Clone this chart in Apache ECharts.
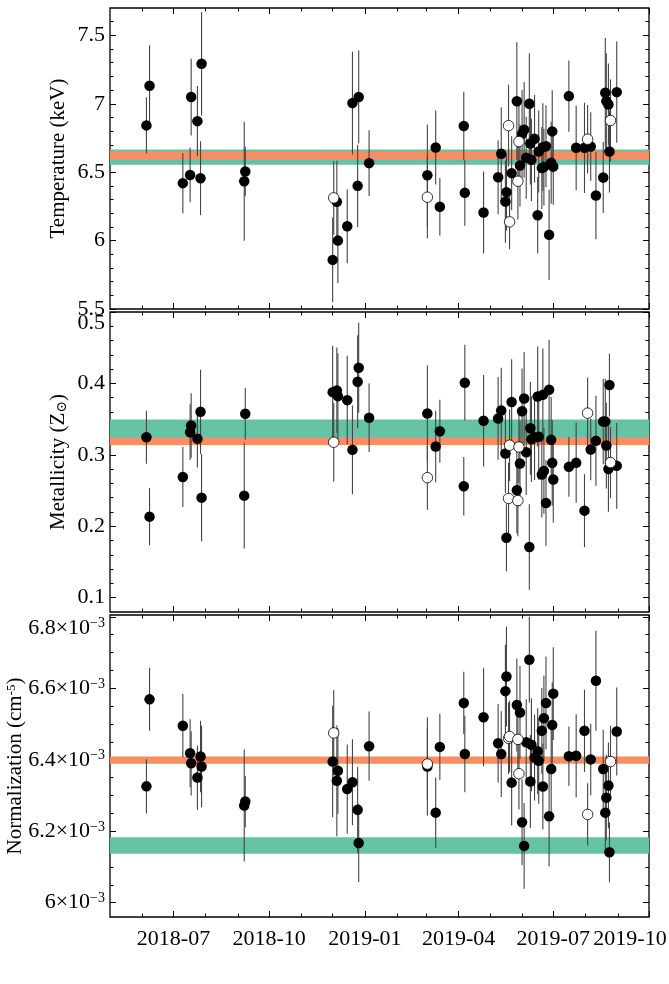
<!DOCTYPE html>
<html lang="en">
<head>
<meta charset="UTF-8">
<title>Spectral fit parameters</title>
<script src="https://cdn.jsdelivr.net/npm/echarts@6/dist/echarts.min.js"></script>
<style>
  html, body { margin: 0; padding: 0; background: #fff; }
  #main { width: 669px; height: 984px; }
</style>
</head>
<body>
<div id="main"></div>
<script>
// observation dates (shared by the three panels)
var dates = [
  '2018-06-05','2018-06-08','2018-07-10','2018-07-17','2018-07-18','2018-07-24','2018-07-27','2018-07-28',
  '2018-09-07','2018-09-08',
  '2018-12-01','2018-12-02','2018-12-05','2018-12-06','2018-12-15','2018-12-20','2018-12-25','2018-12-26',
  '2019-01-05',
  '2019-03-02','2019-03-02','2019-03-10','2019-03-14',
  '2019-04-06','2019-04-07','2019-04-25',
  '2019-05-09','2019-05-12','2019-05-16','2019-05-17','2019-05-19','2019-05-20','2019-05-22','2019-05-27','2019-05-28','2019-05-29','2019-05-30',
  '2019-06-01','2019-06-03','2019-06-05','2019-06-08','2019-06-09','2019-06-10','2019-06-13','2019-06-16','2019-06-17','2019-06-20','2019-06-21','2019-06-22','2019-06-24','2019-06-27','2019-06-29','2019-06-30',
  '2019-07-01','2019-07-16','2019-07-23','2019-07-31',
  '2019-08-03','2019-08-06','2019-08-11','2019-08-18','2019-08-20','2019-08-21','2019-08-23','2019-08-24','2019-08-25','2019-08-31'
];
// 1 = open (white) marker
var hollow = [
  0,0,0,0,0,0,0,0,
  0,0,
  0,1,0,0,0,0,0,0,
  0,
  0,1,0,0,
  0,0,0,
  0,0,0,0,1,1,0,0,1,1,0,
  0,0,0,0,0,0,0,0,0,0,0,0,0,0,0,0,
  0,0,0,0,
  1,0,0,0,0,0,0,0,1,0
];

var temp = [
  6.842, 7.132, 6.42, 6.48, 7.049, 6.873, 6.456, 7.293,
  6.434, 6.505,
  5.859, 6.312, 6.283, 6.0, 6.105, 7.005, 6.4, 7.049,
  6.566,
  6.478, 6.317, 6.68, 6.247,
  6.837, 6.349, 6.205,
  6.463, 6.634, 6.285, 6.354, 6.84, 6.137, 6.493, 7.019, 6.434, 6.724, 6.549,
  6.78, 6.81, 6.605, 7.0, 6.71, 6.59, 6.744, 6.185, 6.651, 6.53, 6.683, 6.537, 6.69, 6.042, 6.569, 6.798,
  6.542, 7.056, 6.678, 6.678,
  6.741, 6.688, 6.33, 6.461, 7.081, 7.019, 6.995, 6.651, 6.878, 7.085
];
var tempErr = [
  0.205, 0.295, 0.22, 0.20, 0.28, 0.256, 0.27, 0.378,
  0.435, 0.18,
  0.31, 0.27, 0.30, 0.31, 0.27, 0.376, 0.30, 0.34,
  0.24,
  0.37, 0.30, 0.27, 0.21,
  0.25, 0.24, 0.30,
  0.27, 0.34, 0.30, 0.28, 0.30, 0.20, 0.27, 0.43, 0.28, 0.30, 0.30,
  0.32, 0.35, 0.30, 0.37, 0.30, 0.30, 0.32, 0.28, 0.30, 0.30, 0.32, 0.28, 0.30, 0.33, 0.30, 0.30,
  0.28, 0.26, 0.31, 0.33,
  0.25, 0.25, 0.32, 0.26, 0.40, 0.35, 0.30, 0.30, 0.30, 0.37
];

var metal = [
  0.3247, 0.2135, 0.2691, 0.3317, 0.3411, 0.3224, 0.3603, 0.2401,
  0.2429, 0.3575,
  0.3878, 0.3177, 0.3902, 0.3822, 0.3766, 0.307, 0.4024, 0.422,
  0.3519,
  0.358, 0.268, 0.3116, 0.333,
  0.256, 0.401, 0.3477,
  0.351, 0.362, 0.302, 0.184, 0.239, 0.3135, 0.374, 0.2504, 0.236, 0.311, 0.288,
  0.361, 0.379, 0.3037, 0.171, 0.3373, 0.3219, 0.3247, 0.3818, 0.3252, 0.2724, 0.384, 0.2775, 0.2327, 0.3911, 0.321, 0.2888,
  0.2654, 0.2832, 0.2888, 0.2219,
  0.3584, 0.3074, 0.3196, 0.3467, 0.3467, 0.313, 0.2803, 0.3977, 0.2892, 0.2846
];
var metalErr = [
  0.037, 0.040, 0.042, 0.039, 0.045, 0.040, 0.059, 0.061,
  0.074, 0.036,
  0.065, 0.055, 0.060, 0.060, 0.062, 0.062, 0.065, 0.063,
  0.048,
  0.067, 0.045, 0.050, 0.044,
  0.041, 0.053, 0.064,
  0.058, 0.060, 0.055, 0.047, 0.050, 0.050, 0.060, 0.060, 0.050, 0.050, 0.060,
  0.060, 0.065, 0.060, 0.060, 0.065, 0.060, 0.060, 0.070, 0.060, 0.060, 0.065, 0.060, 0.060, 0.070, 0.060, 0.060,
  0.060, 0.042, 0.056, 0.051,
  0.050, 0.043, 0.063, 0.060, 0.060, 0.060, 0.060, 0.044, 0.050, 0.060
];

// normalization, in units of 1e-3 cm^-5
var norm = [
  6.3255, 6.569, 6.495, 6.418, 6.39, 6.35, 6.409, 6.381,
  6.272, 6.283,
  6.395, 6.475, 6.341, 6.369, 6.318, 6.337, 6.26, 6.167,
  6.438,
  6.381, 6.388, 6.252, 6.436,
  6.559, 6.416, 6.519,
  6.446, 6.416, 6.592, 6.633, 6.46, 6.465, 6.336, 6.553, 6.457, 6.361, 6.532,
  6.225, 6.159, 6.449, 6.68, 6.339, 6.442, 6.406, 6.424, 6.397, 6.481, 6.325, 6.516, 6.559, 6.242, 6.374, 6.497,
  6.585, 6.41, 6.411, 6.481,
  6.247, 6.401, 6.621, 6.374, 6.252, 6.294, 6.328, 6.141, 6.395, 6.479
];
var normErr = [
  0.076, 0.088, 0.089, 0.095, 0.09, 0.09, 0.10, 0.114,
  0.157, 0.072,
  0.156, 0.12, 0.155, 0.12, 0.125, 0.12, 0.12, 0.11,
  0.097,
  0.138, 0.10, 0.098, 0.093,
  0.087, 0.107, 0.137,
  0.11, 0.12, 0.13, 0.14, 0.10, 0.10, 0.12, 0.13, 0.10, 0.10, 0.13,
  0.12, 0.12, 0.12, 0.12, 0.13, 0.13, 0.12, 0.12, 0.12, 0.12, 0.12, 0.12, 0.13, 0.14, 0.12, 0.12,
  0.13, 0.083, 0.116, 0.115,
  0.087, 0.10, 0.14, 0.11, 0.12, 0.12, 0.12, 0.084, 0.10, 0.123
];

// horizontal bands [low, high]
var tempTeal = [6.555, 6.665],    tempOrange = [6.592, 6.652];
var metalTeal = [0.3250, 0.3495], metalOrange = [0.3137, 0.3250];
var normTeal = [6.137, 6.183],    normOrange = [6.389, 6.409];

// axis ranges and tick labels
var xRange = ['2018-05-01', '2019-10-01'];
var quarterTicks = ['2018-07-01', '2018-10-01', '2019-01-01', '2019-04-01', '2019-07-01', '2019-10-01'];
var monthTicks = [
  '2018-06-01', '2018-07-01', '2018-08-01', '2018-09-01', '2018-10-01', '2018-11-01', '2018-12-01',
  '2019-01-01', '2019-02-01', '2019-03-01', '2019-04-01', '2019-05-01', '2019-06-01', '2019-07-01',
  '2019-08-01', '2019-09-01'
];
var tempTicks = [5.5, 6, 6.5, 7, 7.5];
var metalTicks = [0.1, 0.2, 0.3, 0.4, 0.5];
var normTicks = [6.0, 6.2, 6.4, 6.6, 6.8];

var TEAL = '#66c2a5', ORANGE = '#fc8d62';
var FONT = '"Liberation Serif", "Times New Roman", "DejaVu Serif", serif';
var TICK_FS = 22, NAME_FS = 21;

// dates are placed on a numeric (millisecond) axis so tick positions can be given explicitly
function ts(s) { return +echarts.time.parse(s); }
var X_MIN = ts(xRange[0]), X_MAX = ts(xRange[1]);
var quarterTs = quarterTicks.map(ts);
var monthTs = monthTicks.map(ts);

var chart = echarts.init(document.getElementById('main'));

var grids = [
  {left: 110, right: 20, top: 8, height: 301},
  {left: 110, right: 20, top: 312, height: 300},
  {left: 110, right: 20, top: 615, height: 302}
].map(function (g) {
  g.show = true; g.borderColor = '#000'; g.borderWidth = 1.3; g.backgroundColor = 'transparent';
  g.containLabel = false; g.outerBoundsMode = 'none';
  return g;
});

var tickStyle = {color: '#000', width: 1};

function xAxesFor(i) {
  var out = [];
  ['bottom', 'top'].forEach(function (pos) {
    // quarterly major ticks (+ labels on the lowest panel)
    out.push({
      type: 'value', gridIndex: i, position: pos, min: X_MIN, max: X_MAX,
      axisLine: {show: false}, splitLine: {show: false},
      axisTick: {inside: true, length: 6, lineStyle: tickStyle, customValues: quarterTs},
      axisLabel: {
        show: (i === 2 && pos === 'bottom'),
        customValues: quarterTs, hideOverlap: false,
        margin: 11, color: '#000', fontFamily: FONT, fontSize: TICK_FS,
        formatter: function (v) {
          var s = echarts.time.format(v, '{yyyy}-{MM}', false);
          if (v >= X_MAX - 86400000) return '{edge|' + s + '}';
          return s;
        },
        rich: {edge: {fontFamily: FONT, fontSize: TICK_FS, color: '#000', padding: [0, 38, 0, 0]}}
      }
    });
    // monthly minor ticks
    out.push({
      type: 'value', gridIndex: i, position: pos, min: X_MIN, max: X_MAX,
      axisLine: {show: false}, splitLine: {show: false},
      axisTick: {inside: true, length: 3.5, lineStyle: tickStyle, customValues: monthTs},
      axisLabel: {show: false}
    });
  });
  return out;
}

function yAxesFor(i, min, max, ticks, minorSplit, name, nameGap, label) {
  var base = {
    type: 'value', gridIndex: i, min: min, max: max,
    axisLine: {show: false}, splitLine: {show: false},
    axisTick: {inside: true, length: 6, lineStyle: tickStyle, customValues: ticks},
    minorTick: {show: true, splitNumber: minorSplit, length: 3.5, lineStyle: tickStyle}
  };
  var left = Object.assign({}, base, {
    position: 'left',
    name: name, nameLocation: 'middle', nameGap: nameGap, nameMoveOverlap: false,
    nameTextStyle: {
      fontFamily: FONT, fontSize: NAME_FS, color: '#000',
      rich: {
        sup: {fontFamily: FONT, fontSize: 13, color: '#000', verticalAlign: 'top', lineHeight: 13},
        sub: {fontFamily: '"DejaVu Serif", serif', fontSize: 14, color: '#000', verticalAlign: 'bottom', lineHeight: 14}
      }
    },
    axisLabel: Object.assign({
      customValues: ticks, margin: 5, color: '#000', fontFamily: FONT, fontSize: TICK_FS
    }, label)
  });
  var right = Object.assign({}, base, {position: 'right', axisLabel: {show: false}});
  return [left, right];
}

var plainLabel = {
  formatter: function (v) { return String(+v.toFixed(3)); }
};
var plainLabelTop = {
  verticalAlignMaxLabel: 'top',
  formatter: function (v) { return String(+v.toFixed(3)); }
};
var sciLabel = {
  verticalAlignMaxLabel: 'top',
  formatter: function (v) { return '{n|' + String(+v.toFixed(3)) + '×10}{s|−3}'; },
  rich: {
    n: {fontFamily: FONT, fontSize: TICK_FS, color: '#000'},
    s: {fontFamily: FONT, fontSize: 14, color: '#000', verticalAlign: 'top', lineHeight: 14}
  }
};

var xAxis = [].concat(xAxesFor(0), xAxesFor(1), xAxesFor(2));
var yAxis = [].concat(
  yAxesFor(0, 5.5, 7.7, tempTicks, 5, 'Temperature (keV)', 41, plainLabel),
  yAxesFor(1, 0.08, 0.5, metalTicks, 5, 'Metallicity (Z{sub|⊙})', 41, plainLabelTop),
  yAxesFor(2, 5.96, 6.805, normTicks, 4, 'Normalization (cm{sup|-5})', 84, sciLabel)
);

function panelSeries(i, vals, errs, teal, orange) {
  var xi = i * 4, yi = i * 2;
  var bars = [], filled = [], open = [];
  for (var k = 0; k < dates.length; k++) {
    var t = ts(dates[k]);
    bars.push([t, vals[k] - errs[k], vals[k] + errs[k]]);
    (hollow[k] ? open : filled).push([t, vals[k]]);
  }
  return [
    {
      type: 'scatter', xAxisIndex: xi, yAxisIndex: yi, data: [], z: 1, silent: true,
      markArea: {
        silent: true,
        data: [
          [{yAxis: teal[0], itemStyle: {color: TEAL, opacity: 1}}, {yAxis: teal[1]}],
          [{yAxis: orange[0], itemStyle: {color: ORANGE, opacity: 1}}, {yAxis: orange[1]}]
        ]
      }
    },
    {
      type: 'custom', xAxisIndex: xi, yAxisIndex: yi, data: bars, z: 3, clip: true, silent: true,
      encode: {x: 0, y: [1, 2]},
      renderItem: function (params, api) {
        var p1 = api.coord([api.value(0), api.value(1)]);
        var p2 = api.coord([api.value(0), api.value(2)]);
        return {
          type: 'line',
          shape: {x1: p1[0], y1: p1[1], x2: p2[0], y2: p2[1]},
          style: {stroke: '#444', lineWidth: 1.1}
        };
      }
    },
    {
      type: 'scatter', xAxisIndex: xi, yAxisIndex: yi, data: filled, z: 4,
      symbol: 'circle', symbolSize: 10.5, itemStyle: {color: '#000', opacity: 1}
    },
    {
      type: 'scatter', xAxisIndex: xi, yAxisIndex: yi, data: open, z: 5,
      symbol: 'circle', symbolSize: 10.5,
      itemStyle: {color: '#fff', borderColor: '#000', borderWidth: 0.8, opacity: 1}
    }
  ];
}

chart.setOption({
  animation: false,
  backgroundColor: '#fff',
  grid: grids,
  xAxis: xAxis,
  yAxis: yAxis,
  series: [].concat(
    panelSeries(0, temp, tempErr, tempTeal, tempOrange),
    panelSeries(1, metal, metalErr, metalTeal, metalOrange),
    panelSeries(2, norm, normErr, normTeal, normOrange)
  )
});
</script>
</body>
</html>
